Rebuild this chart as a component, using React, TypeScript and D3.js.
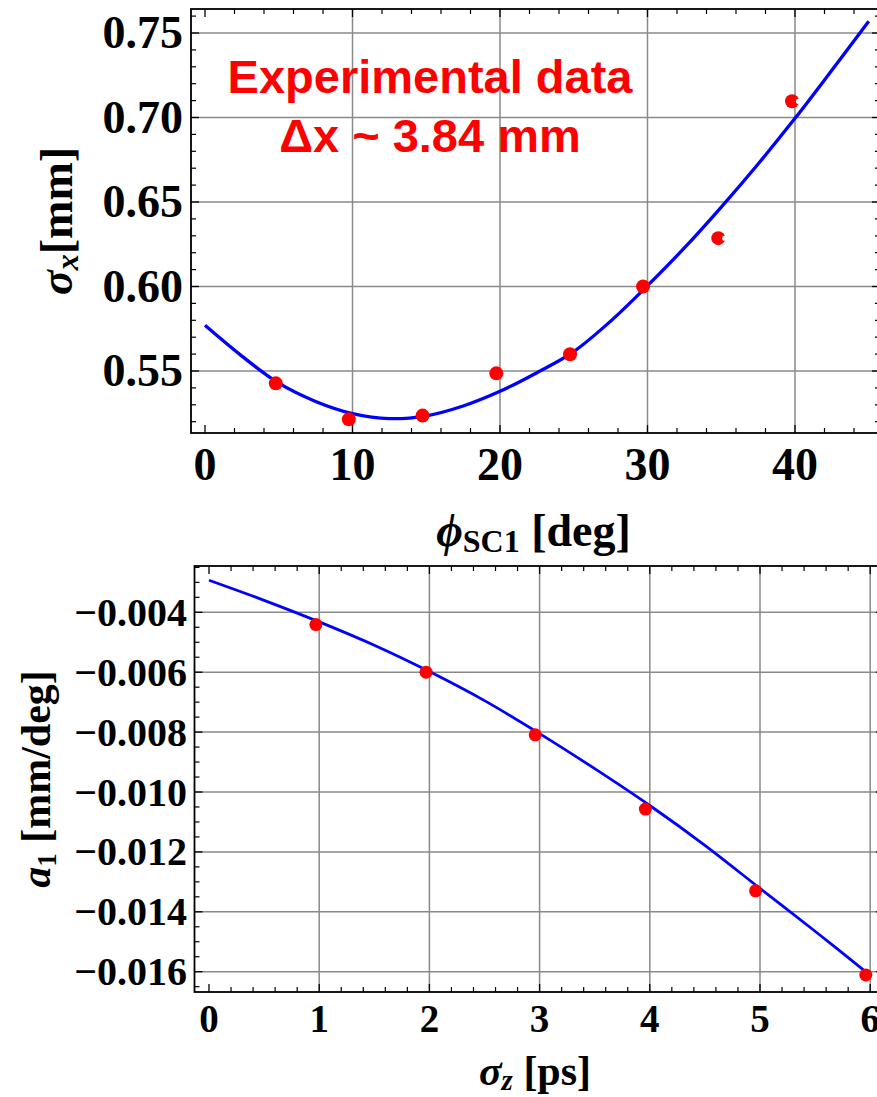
import React from 'react';
import * as d3 from 'd3';

// ---------- Top panel data ----------
const topCurvePhi = [0, 2.5, 5, 7.5, 10, 12.5, 15, 17.5, 20, 22.5, 25, 27.5, 30, 32.5, 35, 37.5, 40, 42.5, 45];
const topCurveSigma = [0.577, 0.5588, 0.5428, 0.532, 0.5248, 0.5218, 0.5235, 0.5293, 0.538, 0.549, 0.5615, 0.5795, 0.6005, 0.6228, 0.647, 0.6725, 0.6995, 0.728, 0.757];
const topDataPhi = [4.8, 9.75, 14.75, 19.75, 24.75, 29.7, 34.8, 39.8];
const topDataSigma = [0.5427, 0.5214, 0.5236, 0.5486, 0.5599, 0.6, 0.6286, 0.7096];
const topDataNotched = [false, false, false, false, false, false, true, true];
const topXTicks = [0, 10, 20, 30, 40];
const topXTickLabels = ['0', '10', '20', '30', '40'];
const topYTicks = [0.55, 0.6, 0.65, 0.7, 0.75];
const topYTickLabels = ['0.55', '0.60', '0.65', '0.70', '0.75'];
const topGridX = [10, 20, 30, 40];
const annotationLines = ['Experimental data', 'Δx ~ 3.84 mm'];

// ---------- Bottom panel data ----------
const botCurveSz = [0, 0.5, 1, 1.5, 2, 2.5, 3, 3.5, 4, 4.5, 5, 5.5, 6];
const botCurveA1 = [-0.00293, -0.0036, -0.00432, -0.0051, -0.00598, -0.00695, -0.00805, -0.00922, -0.01045, -0.01178, -0.01322, -0.01465, -0.01612];
const botDataSz = [0.97, 1.97, 2.96, 3.96, 4.96, 5.96];
const botDataA1 = [-0.00441, -0.006, -0.00809, -0.01057, -0.0133, -0.01611];
const botXTicks = [0, 1, 2, 3, 4, 5, 6];
const botXTickLabels = ['0', '1', '2', '3', '4', '5', '6'];
const botYTicks = [-0.004, -0.006, -0.008, -0.01, -0.012, -0.014, -0.016];
const botYTickLabels = ['\u22120.004', '\u22120.006', '\u22120.008', '\u22120.010', '\u22120.012', '\u22120.014', '\u22120.016'];
const botGridX = [1, 2, 3, 4, 5, 6];

const SERIF = '"Liberation Serif", "Times New Roman", "DejaVu Serif", serif';
const SANS = '"Liberation Sans", Arial, "DejaVu Sans", sans-serif';

type Box = { l: number; t: number; r: number; b: number };

function FramePanel(props: {
  box: Box;
  xs: d3.ScaleLinear<number, number>;
  ys: d3.ScaleLinear<number, number>;
  xMajor: number[];
  yMajor: number[];
  xMinor: number[];
  yMinor: number[];
  gridX: number[];
  gridY: number[];
}) {
  const { box, xs, ys, xMajor, yMajor, xMinor, yMinor, gridX, gridY } = props;
  const inX = (v: number) => xs(v) > box.l + 1 && xs(v) < box.r - 1;
  const inY = (v: number) => ys(v) > box.t + 1 && ys(v) < box.b - 1;
  const maj = 8;
  const min = 5;
  return (
    <g>
      {gridX.filter(inX).map((v, i) => (
        <line key={'gx' + i} x1={xs(v)} x2={xs(v)} y1={box.t} y2={box.b} stroke="#8a8a8a" strokeWidth={1.5} />
      ))}
      {gridY.filter(inY).map((v, i) => (
        <line key={'gy' + i} x1={box.l} x2={box.r} y1={ys(v)} y2={ys(v)} stroke="#8a8a8a" strokeWidth={1.5} />
      ))}
      {xMinor.filter(inX).map((v, i) => (
        <g key={'xm' + i}>
          <line x1={xs(v)} x2={xs(v)} y1={box.b} y2={box.b - min} stroke="#000" strokeWidth={1.2} />
          <line x1={xs(v)} x2={xs(v)} y1={box.t} y2={box.t + min} stroke="#000" strokeWidth={1.2} />
        </g>
      ))}
      {xMajor.filter(inX).map((v, i) => (
        <g key={'xM' + i}>
          <line x1={xs(v)} x2={xs(v)} y1={box.b} y2={box.b - maj} stroke="#000" strokeWidth={1.3} />
          <line x1={xs(v)} x2={xs(v)} y1={box.t} y2={box.t + maj} stroke="#000" strokeWidth={1.3} />
        </g>
      ))}
      {yMinor.filter(inY).map((v, i) => (
        <g key={'ym' + i}>
          <line x1={box.l} x2={box.l + min} y1={ys(v)} y2={ys(v)} stroke="#000" strokeWidth={1.2} />
          <line x1={box.r} x2={box.r - min} y1={ys(v)} y2={ys(v)} stroke="#000" strokeWidth={1.2} />
        </g>
      ))}
      {yMajor.filter(inY).map((v, i) => (
        <g key={'yM' + i}>
          <line x1={box.l} x2={box.l + maj} y1={ys(v)} y2={ys(v)} stroke="#000" strokeWidth={1.3} />
          <line x1={box.r} x2={box.r - maj} y1={ys(v)} y2={ys(v)} stroke="#000" strokeWidth={1.3} />
        </g>
      ))}
      <rect x={box.l} y={box.t} width={box.r - box.l} height={box.b - box.t} fill="none" stroke="#000" strokeWidth={1.8} />
    </g>
  );
}

export default function App() {
  // Top panel
  const tBox: Box = { l: 191, t: 9, r: 880, b: 433 };
  const txs = d3.scaleLinear().domain([0, 40]).range([205, 795]);
  const tys = d3.scaleLinear().domain([0.55, 0.75]).range([371, 33]);
  const tLine = d3
    .line<number>()
    .x((_, i) => txs(topCurvePhi[i]))
    .y((d) => tys(d))
    .curve(d3.curveCatmullRom.alpha(0.5));

  // Bottom panel
  const bBox: Box = { l: 194.5, t: 566, r: 884, b: 992 };
  const bxs = d3.scaleLinear().domain([0, 6]).range([209, 870.2]);
  const bys = d3.scaleLinear().domain([-0.016, -0.004]).range([971.7, 612.3]);
  const bLine = d3
    .line<number>()
    .x((_, i) => bxs(botCurveSz[i]))
    .y((d) => bys(d))
    .curve(d3.curveCatmullRom.alpha(0.5));

  const tXMinor = d3.range(0, 47, 2).filter((v) => v % 10 !== 0);
  const tYMinor = d3.range(51, 77, 1).map((v) => v / 100).filter((v) => Math.round(v * 100) % 5 !== 0);
  const bXMinor = d3.range(0, 31, 1).map((v) => v / 5).filter((v) => Math.abs(v - Math.round(v)) > 1e-6);
  const bYMinor = d3.range(-34, -4, 1).map((v) => v / 2000).filter((v) => Math.abs(v * 500 - Math.round(v * 500)) > 1e-6);

  return (
    <svg
      width={877}
      height={1097}
      viewBox="0 0 877 1097"
      style={{ position: 'absolute', left: 0, top: 0, display: 'block', background: '#fff' }}
    >
      <rect x={0} y={0} width={877} height={1097} fill="#fff" />

      {/* ================= TOP PANEL ================= */}
      <FramePanel
        box={tBox}
        xs={txs}
        ys={tys}
        xMajor={topXTicks}
        yMajor={topYTicks}
        xMinor={tXMinor}
        yMinor={tYMinor}
        gridX={topGridX}
        gridY={topYTicks}
      />
      <path d={tLine(topCurveSigma) || ''} fill="none" stroke="#0000ff" strokeWidth={3.3} />
      {topDataPhi.map((p, i) => (
        <g key={'tp' + i}>
          <circle cx={txs(p)} cy={tys(topDataSigma[i])} r={7} fill="#ff0000" />
          {topDataNotched[i] && <circle cx={txs(p) + 6.5} cy={tys(topDataSigma[i])} r={2.6} fill="#fff" />}
        </g>
      ))}
      {annotationLines.map((s, i) => (
        <text
          key={'an' + i}
          x={430}
          y={93 + i * 58.5}
          textAnchor="middle"
          fontFamily={SANS}
          fontWeight="bold"
          fontSize={47}
          fill="#ff0000"
        >
          {s}
        </text>
      ))}
      {topXTicks.map((v, i) => (
        <text key={'txl' + i} x={txs(v)} y={480} textAnchor="middle" fontFamily={SERIF} fontWeight="bold" fontSize={46} fill="#000">
          {topXTickLabels[i]}
        </text>
      ))}
      {topYTicks.map((v, i) => (
        <text key={'tyl' + i} x={183} y={tys(v) + 15} textAnchor="end" fontFamily={SERIF} fontWeight="bold" fontSize={46} fill="#000">
          {topYTickLabels[i]}
        </text>
      ))}
      <text x={(tBox.l + tBox.r - 4) / 2} y={546} textAnchor="middle" fontFamily={SERIF} fontWeight="bold" fontSize={46} fill="#000">
        <tspan fontStyle="italic">{'\u03D5'}</tspan>
        <tspan fontSize={32} dy={6}>SC1</tspan>
        <tspan dy={-6}> [deg]</tspan>
      </text>
      <text
        transform={`translate(72, ${(tBox.t + tBox.b) / 2}) rotate(-90)`}
        textAnchor="middle"
        fontFamily={SERIF}
        fontWeight="bold"
        fontSize={46}
        fill="#000"
      >
        <tspan fontStyle="italic">σ</tspan>
        <tspan fontStyle="italic" fontSize={32} dy={6}>x</tspan>
        <tspan dy={-6}>[mm]</tspan>
      </text>

      {/* ================= BOTTOM PANEL ================= */}
      <FramePanel
        box={bBox}
        xs={bxs}
        ys={bys}
        xMajor={botXTicks}
        yMajor={botYTicks}
        xMinor={bXMinor}
        yMinor={bYMinor}
        gridX={botGridX}
        gridY={botYTicks}
      />
      <path d={bLine(botCurveA1) || ''} fill="none" stroke="#0000ff" strokeWidth={2.8} />
      {botDataSz.map((s, i) => (
        <circle key={'bp' + i} cx={bxs(s)} cy={bys(botDataA1[i])} r={6.5} fill="#ff0000" />
      ))}
      {botXTicks.map((v, i) => (
        <text key={'bxl' + i} x={bxs(v)} y={1031.5} textAnchor="middle" fontFamily={SERIF} fontWeight="bold" fontSize={39} fill="#000">
          {botXTickLabels[i]}
        </text>
      ))}
      {botYTicks.map((v, i) => (
        <text key={'byl' + i} x={187} y={bys(v) + 13.5} textAnchor="end" fontFamily={SERIF} fontWeight="bold" fontSize={40} fill="#000">
          {botYTickLabels[i]}
        </text>
      ))}
      <text x={535} y={1085} textAnchor="middle" fontFamily={SERIF} fontWeight="bold" fontSize={42} fill="#000">
        <tspan fontStyle="italic">σ</tspan>
        <tspan fontStyle="italic" fontSize={29} dy={5}>z</tspan>
        <tspan dy={-5}> [ps]</tspan>
      </text>
      <text
        transform={`translate(50, ${(bBox.t + bBox.b) / 2}) rotate(-90)`}
        textAnchor="middle"
        fontFamily={SERIF}
        fontWeight="bold"
        fontSize={42}
        fill="#000"
      >
        <tspan fontStyle="italic">a</tspan>
        <tspan fontSize={27} dy={6}>1</tspan>
        <tspan dy={-6}> [mm/deg]</tspan>
      </text>
    </svg>
  );
}
